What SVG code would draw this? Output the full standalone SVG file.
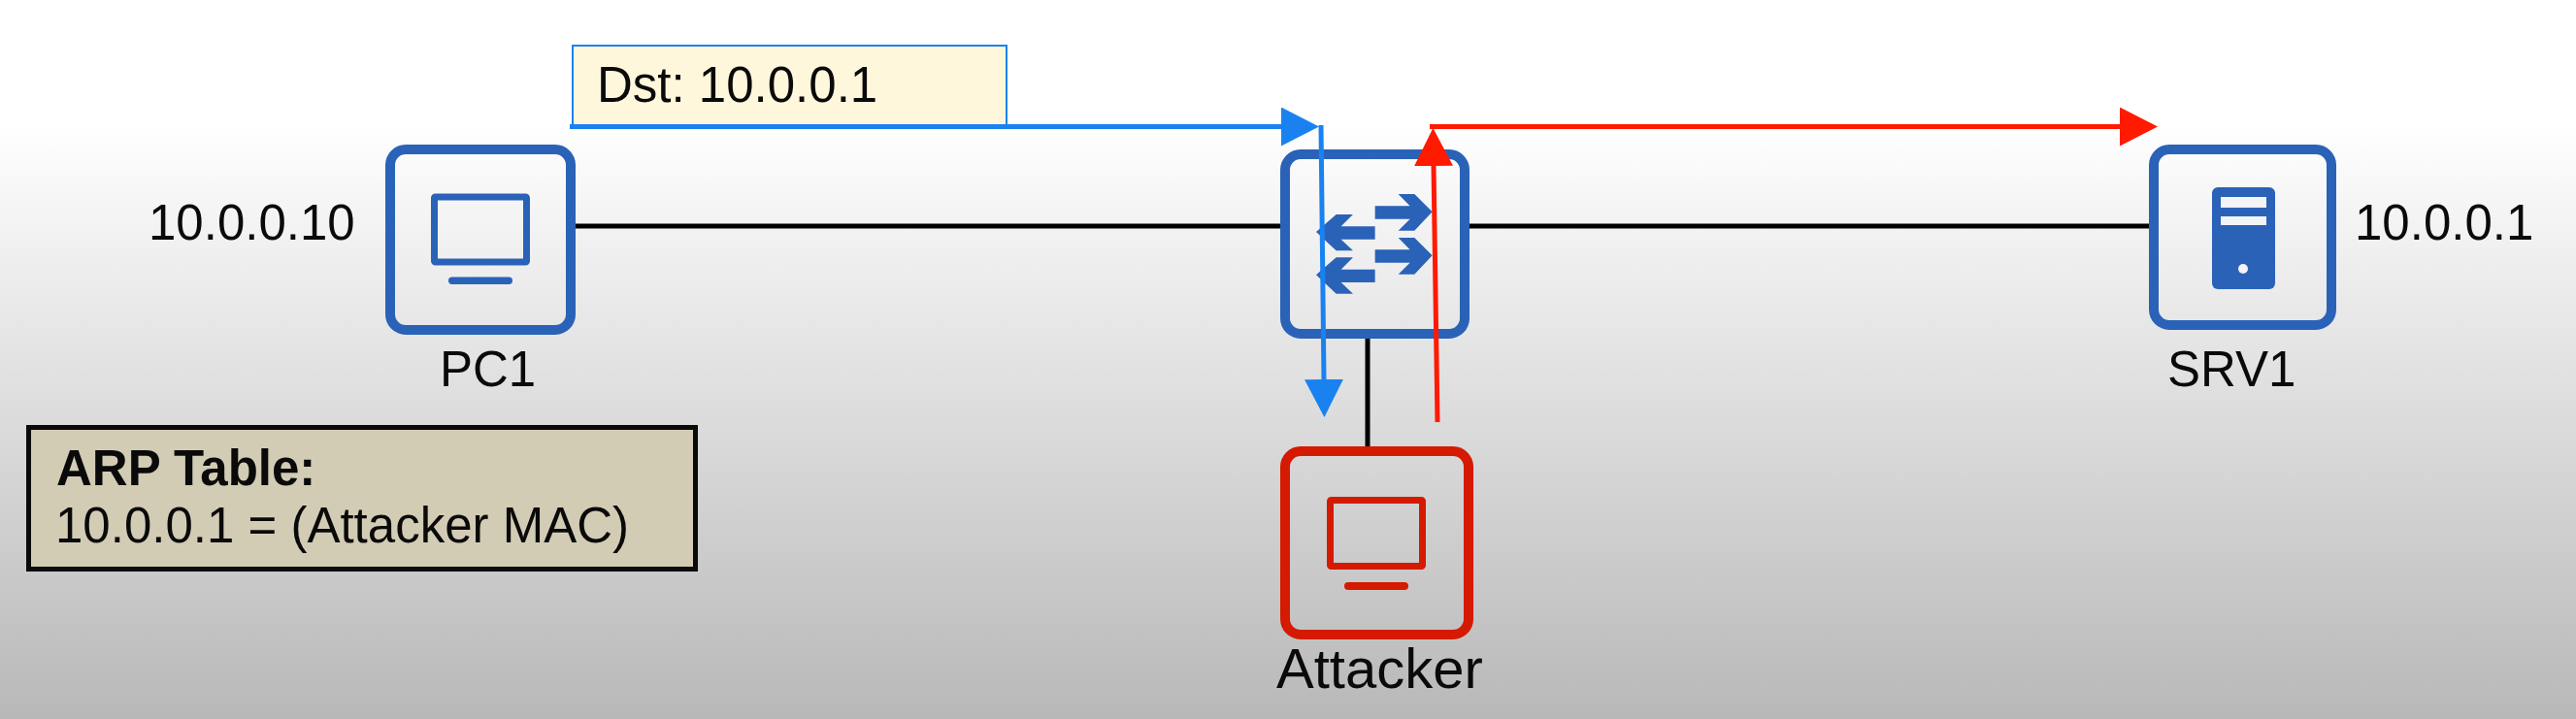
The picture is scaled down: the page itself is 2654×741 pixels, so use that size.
<svg xmlns="http://www.w3.org/2000/svg" width="2654" height="741" viewBox="0 0 2654 741">
<style>
text{font-family:"Liberation Sans",Arial,sans-serif;font-size:51px;fill:#0a0a0a}
.box{fill:none;stroke-width:10}
.b{stroke:#2a62b8}.r{stroke:#d41a00}
.lnk{stroke:#000;stroke-width:5;fill:none}
.mon{fill:none;stroke-width:7}
.bf{fill:#2a62b8}.rf{fill:#d41a00}
.ab{stroke:#1a82f0;stroke-width:5;fill:none}
.ar{stroke:#ff1a00;stroke-width:5;fill:none}
</style>
<defs>
<linearGradient id="bg" x1="0" y1="0" x2="0" y2="1">
<stop offset="0.17" stop-color="#ffffff"/><stop offset="1" stop-color="#b8b8b8"/>
</linearGradient>
<marker id="hb" markerUnits="userSpaceOnUse" markerWidth="40" markerHeight="40" viewBox="0 0 40 40" refX="1" refY="20" orient="auto"><path d="M0,0L39,20L0,40Z" fill="#1a82f0"/></marker>
<marker id="hr" markerUnits="userSpaceOnUse" markerWidth="40" markerHeight="40" viewBox="0 0 40 40" refX="1" refY="20" orient="auto"><path d="M0,0L39,20L0,40Z" fill="#ff1a00"/></marker>
<path id="ra" d="M650,397H758L722,360H772L827,415L772,473H722L758,437H650Z"/>
<path id="la" d="M650,460H545L582,423H530L468,477L530,535H582L545,500H650Z"/>
</defs>
<rect id="background" width="2654" height="741" fill="url(#bg)"/>
<g id="connectors-links">
<path class="lnk" d="M593,233H1319"/>
<path class="lnk" d="M1514,233H2214"/>
<path class="lnk" d="M1409,349V460"/>
</g>
<g id="node-pc1">
<rect class="box b" x="402" y="154" width="186" height="186" rx="16"/>
<rect class="mon b" x="447.500" y="203" width="95" height="67" rx="1"/>
<rect class="bf" x="462" y="285.500" width="66" height="7.500" rx="3.700"/>
<text x="453" y="398">PC1</text>
<text x="153" y="247">10.0.0.10</text>
</g>
<g id="node-switch">
<rect class="box b" x="1324" y="159" width="185" height="185" rx="16"/>
<g class="bf" transform="translate(1200,80) scale(0.3333)">
<use href="#ra"/><use href="#ra" y="135"/><use href="#la"/><use href="#la" y="133"/>
</g>
</g>
<g id="node-attacker">
<rect class="box r" x="1324" y="465" width="189" height="189" rx="16"/>
<rect class="mon r" x="1370.500" y="515.500" width="95" height="68" rx="1"/>
<rect class="rf" x="1385" y="600" width="66" height="8" rx="4"/>
<text x="1315" y="709" style="font-size:58px">Attacker</text>
</g>
<g id="node-srv1">
<rect class="box b" x="2219" y="154" width="183" height="181" rx="16"/>
<rect class="bf" x="2279" y="193" width="65" height="105" rx="6"/>
<rect x="2288" y="203" width="47" height="11" fill="#f2f4f6"/>
<rect x="2288" y="223" width="47" height="9" fill="#f2f4f6"/>
<circle cx="2311" cy="277" r="5" fill="#f2f4f6"/>
<text x="2233" y="398">SRV1</text>
<text x="2426" y="247">10.0.0.1</text>
</g>
<g id="node-arp-table">
<rect x="29.500" y="440.500" width="687" height="146" fill="#d3ccb5" stroke="#0a0a0a" stroke-width="5"/>
<text x="58" y="500" font-weight="bold">ARP Table:</text>
<text x="57" y="559">10.0.0.1 = (Attacker MAC)</text>
</g>
<g id="node-dst-label">
<rect x="590" y="47" width="447" height="83" fill="#fef7dc" stroke="#1a82f0" stroke-width="2"/>
<text x="615" y="105">Dst: 10.0.0.1</text>
</g>
<g id="connectors">
<path class="ab" d="M587,130.500H1321" marker-end="url(#hb)"/>
<path class="ab" d="M1361,129L1364,392" marker-end="url(#hb)"/>
<path class="ar" d="M1481,435L1477,170" marker-end="url(#hr)"/>
<path class="ar" d="M1473,130.500H2185" marker-end="url(#hr)"/>
</g>
</svg>
